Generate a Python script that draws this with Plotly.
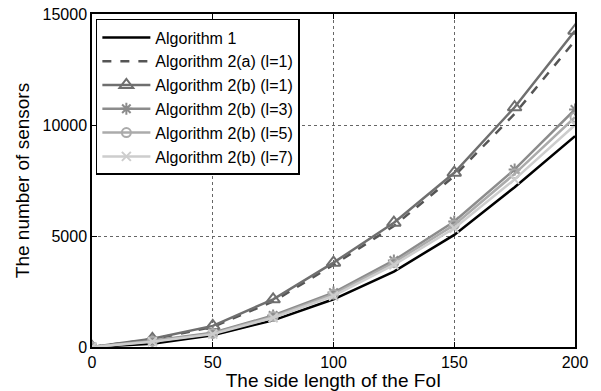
import plotly.graph_objects as go

x_vals = [0, 25, 50, 75, 100, 125, 150, 175, 200]
alg1 = [0, 150, 530, 1200, 2150, 3400, 5050, 7200, 9500]
alg2a_l1 = [0, 350, 900, 2050, 3700, 5450, 7700, 10500, 13800]
alg2b_l1 = [0, 370, 950, 2150, 3800, 5600, 7850, 10800, 14250]
alg2b_l3 = [0, 280, 640, 1420, 2450, 3900, 5650, 8000, 10700]
alg2b_l5 = [0, 260, 610, 1370, 2380, 3800, 5500, 7800, 10350]
alg2b_l7 = [0, 240, 580, 1320, 2300, 3700, 5350, 7550, 10000]

x_ticks = [0, 50, 100, 150, 200]
y_ticks = [0, 5000, 10000, 15000]
y_ticktext = ["0", "5000", "10000", "15000"]

names = ["Algorithm 1", "Algorithm 2(a) (l=1)", "Algorithm 2(b) (l=1)",
         "Algorithm 2(b) (l=3)", "Algorithm 2(b) (l=5)", "Algorithm 2(b) (l=7)"]

fig = go.Figure()
series = [
    (alg1, names[0], "#000000", "solid", None, 0),
    (alg2a_l1, names[1], "#555555", "dash", None, 0),
    (alg2b_l1, names[2], "#6f6f6f", "solid", "triangle-up-open", 12),
    (alg2b_l3, names[3], "#8c8c8c", "solid", "asterisk-open", 10),
    (alg2b_l5, names[4], "#ababab", "solid", "circle-open", 9),
    (alg2b_l7, names[5], "#cdcdcd", "solid", "x-thin-open", 9),
]
for ys, nm, col, dash, sym, sz in series:
    mode = "lines+markers" if sym else "lines"
    kw = dict(marker=dict(symbol=sym, size=sz, color=col, line=dict(width=2, color=col))) if sym else {}
    fig.add_trace(go.Scatter(x=x_vals, y=ys, name=nm, mode=mode,
                             line=dict(color=col, width=2.5, dash=dash), **kw))

fig.update_layout(
    width=601, height=391,
    margin=dict(l=92, r=26, t=14, b=44, autoexpand=False),
    paper_bgcolor="white", plot_bgcolor="white",
    font=dict(family="Liberation Sans, Arial", size=16, color="black"),
    legend=dict(x=0.008, y=0.985, xanchor="left", yanchor="top",
                bordercolor="black", borderwidth=1.5, bgcolor="white",
                font=dict(size=16), itemwidth=48, tracegroupgap=0),
    showlegend=True,
)
fig.update_xaxes(range=[0, 200], tickvals=x_ticks, automargin=False,
                 showline=True, linecolor="black", linewidth=1.5, mirror="ticks",
                 ticks="inside", ticklen=5, tickcolor="black",
                 showgrid=True, gridcolor="#666", griddash="dot", gridwidth=1,
                 zeroline=False, tickfont=dict(size=16),
                 title=dict(text="The side length of the FoI", font=dict(size=19), standoff=2))
fig.update_yaxes(range=[0, 15000], tickvals=y_ticks, ticktext=y_ticktext, automargin=False,
                 showline=True, linecolor="black", linewidth=1.5, mirror="ticks",
                 ticks="inside", ticklen=5, tickcolor="black",
                 showgrid=True, gridcolor="#666", griddash="dot", gridwidth=1,
                 zeroline=False, tickfont=dict(size=16),
                 title=dict(text="The number of sensors", font=dict(size=19), standoff=8))

fig.write_html("out.html", config={"displayModeBar": False},
               post_script="document.body.style.margin='0';document.body.style.overflow='hidden';")
